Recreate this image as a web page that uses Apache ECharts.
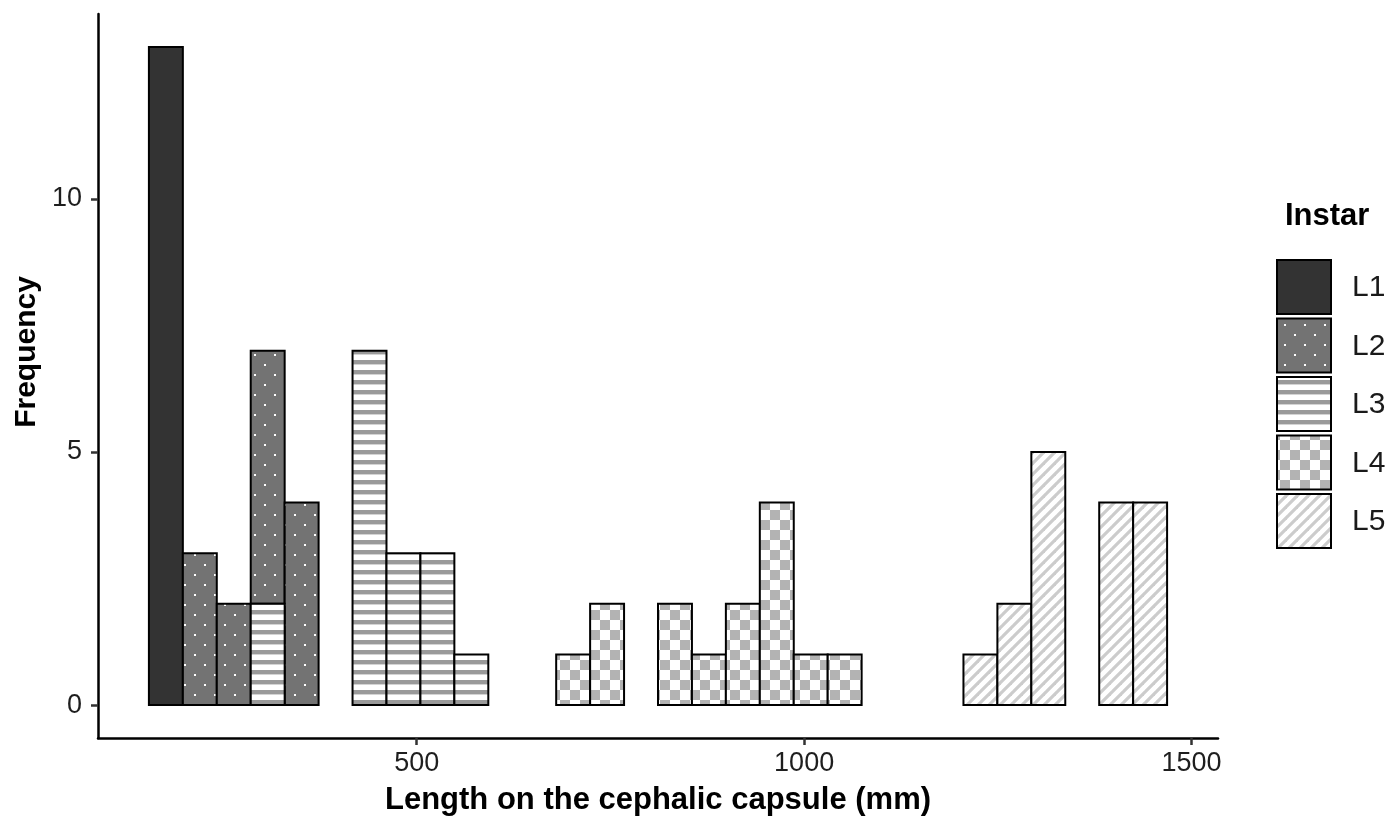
<!DOCTYPE html>
<html>
<head>
<meta charset="utf-8">
<script src="https://cdn.jsdelivr.net/npm/echarts@6/dist/echarts.min.js"></script>
<style>
html,body{margin:0;padding:0;background:#fff;}
#chart{width:1390px;height:816px;}
</style>
</head>
<body>
<div id="chart"></div>
<script>
// ---- data ----
const instars = ['L1', 'L2', 'L3', 'L4', 'L5'];
const binStart = 154.4;   // left edge of first histogram bin (mm)
const binWidth = 43.8;    // histogram bin width (mm)
// counts per bin (30 bins)
const countsL1 = [13,0,0,0,0,0,0,0,0,0,0,0,0,0,0,0,0,0,0,0,0,0,0,0,0,0,0,0,0,0];
const countsL2 = [0,3,2,5,4,0,0,0,0,0,0,0,0,0,0,0,0,0,0,0,0,0,0,0,0,0,0,0,0,0];
const countsL3 = [0,0,0,2,0,0,7,3,3,1,0,0,0,0,0,0,0,0,0,0,0,0,0,0,0,0,0,0,0,0];
const countsL4 = [0,0,0,0,0,0,0,0,0,0,0,0,1,2,0,2,1,2,4,1,1,0,0,0,0,0,0,0,0,0];
const countsL5 = [0,0,0,0,0,0,0,0,0,0,0,0,0,0,0,0,0,0,0,0,0,0,0,0,1,2,5,0,4,4];
const xTicks = [500, 1000, 1500];
const yTicks = [0, 5, 10];
const counts = [countsL1, countsL2, countsL3, countsL4, countsL5];

// ---- patterns ----
function makeCanvas(w, h, draw) {
  const c = document.createElement('canvas');
  c.width = w; c.height = h;
  draw(c.getContext('2d'));
  return c;
}
const patL1 = '#333333';
const patL2 = { image: makeCanvas(20, 20, g => {
  g.fillStyle = '#737373'; g.fillRect(0, 0, 20, 20);
  g.fillStyle = '#ffffff';
  g.fillRect(4, 4, 2, 2); g.fillRect(14, 14, 2, 2);
}), repeat: 'repeat' };
const patL3 = { image: makeCanvas(10, 10, g => {
  g.fillStyle = '#ffffff'; g.fillRect(0, 0, 10, 10);
  g.fillStyle = '#9a9a9a'; g.fillRect(0, 0, 10, 4);
  g.fillStyle = '#d4d4d4'; g.fillRect(0, 4, 10, 1);
}), repeat: 'repeat' };
const patL4 = { image: makeCanvas(20, 20, g => {
  g.fillStyle = '#ffffff'; g.fillRect(0, 0, 20, 20);
  g.fillStyle = '#b3b3b3'; g.fillRect(0, 0, 10, 10); g.fillRect(10, 10, 10, 10);
}), repeat: 'repeat' };
const patL5 = { image: makeCanvas(11, 11, g => {
  g.fillStyle = '#ffffff'; g.fillRect(0, 0, 11, 11);
  g.strokeStyle = '#cccccc'; g.lineWidth = 3.2;
  for (let k = -1; k <= 1; k++) {
    g.beginPath(); g.moveTo(k * 11 - 2, 13); g.lineTo(k * 11 + 13, -2); g.stroke();
  }
}), repeat: 'repeat' };
const fills = [patL1, patL2, patL3, patL4, patL5];

// ---- stacking (L5 at bottom ... L1 on top, as ggplot stacks) ----
const nBins = countsL1.length;
const base = new Array(nBins).fill(0);
const rectsByInstar = [[], [], [], [], []];
for (let s = instars.length - 1; s >= 0; s--) {
  for (let i = 0; i < nBins; i++) {
    const v = counts[s][i];
    if (v > 0) {
      const x0 = binStart + i * binWidth;
      rectsByInstar[s].push([x0, x0 + binWidth, base[i], base[i] + v]);
      base[i] += v;
    }
  }
}

function renderRect(fill) {
  return function (params, api) {
    const p0 = api.coord([api.value(0), api.value(3)]);
    const p1 = api.coord([api.value(1), api.value(2)]);
    return {
      type: 'rect',
      shape: { x: p0[0], y: p0[1], width: p1[0] - p0[0], height: p1[1] - p0[1] },
      style: { fill: fill, stroke: '#000000', lineWidth: 2 }
    };
  };
}

const series = instars.map((name, s) => ({
  type: 'custom',
  name: name,
  renderItem: renderRect(fills[s]),
  encode: { x: [0, 1], y: [2, 3] },
  data: rectsByInstar[s],
  z: 10
}));

const FONT = '"Liberation Sans", Arial, sans-serif';

// ---- legend + y title (drawn as graphic) ----
const legendTop = 260, keySize = 54, keyGap = 58.5, keyLeft = 1277;
const graphics = [{
  type: 'text', left: 1285, top: 201,
  style: { text: 'Instar', font: 'bold 31px ' + FONT, fill: '#000' }
}, {
  type: 'text', x: 27, y: 352, rotation: Math.PI / 2,
  style: { text: 'Frequency', font: 'bold 30px ' + FONT, fill: '#000', align: 'center', verticalAlign: 'middle' }
}];
instars.forEach((name, s) => {
  const y = legendTop + s * keyGap;
  graphics.push({
    type: 'rect', shape: { x: keyLeft, y: y, width: keySize, height: keySize },
    style: { fill: fills[s], stroke: '#000', lineWidth: 2 }
  });
  graphics.push({
    type: 'text', x: 1352, y: y + keySize / 2 + 1,
    style: { text: name, font: '30px ' + FONT, fill: '#1a1a1a', verticalAlign: 'middle' }
  });
});

const chart = echarts.init(document.getElementById('chart'), null, { renderer: 'canvas' });
chart.setOption({
  animation: false,
  backgroundColor: '#ffffff',
  grid: { left: 98, top: 14, width: 1120, height: 724, containLabel: false, outerBoundsMode: 'none' },
  xAxis: {
    type: 'value', min: 88.7, max: 1534.1,
    name: 'Length on the cephalic capsule (mm)', nameLocation: 'middle', nameGap: 47,
    nameTextStyle: { fontFamily: FONT, fontWeight: 'bold', fontSize: 31, color: '#000' },
    axisLine: { show: true, onZero: false, lineStyle: { color: '#000', width: 2.5 } },
    axisTick: { show: true, length: 7, lineStyle: { color: '#333', width: 2.5 }, customValues: xTicks },
    axisLabel: { customValues: xTicks, formatter: v => String(v), fontFamily: FONT, fontSize: 27, color: '#1e1e1e', margin: 12 },
    splitLine: { show: false }
  },
  yAxis: {
    type: 'value', min: -0.65, max: 13.65,
    axisLine: { show: true, onZero: false, lineStyle: { color: '#000', width: 2.5 } },
    axisTick: { show: true, length: 7, lineStyle: { color: '#333', width: 2.5 }, customValues: yTicks },
    axisLabel: { customValues: yTicks, formatter: v => String(v), fontFamily: FONT, fontSize: 27, color: '#1e1e1e', margin: 16 },
    splitLine: { show: false }
  },
  graphic: graphics,
  series: series
});
</script>
</body>
</html>
